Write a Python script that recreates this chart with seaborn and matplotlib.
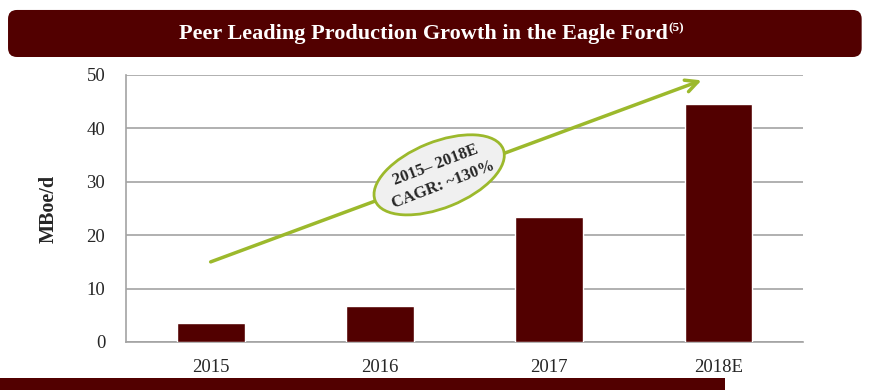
import numpy as np
import pandas as pd
import matplotlib
matplotlib.use('Agg')
import matplotlib.pyplot as plt
import seaborn as sns
from matplotlib.patches import Ellipse, FancyBboxPatch, Rectangle
from matplotlib.text import Annotation
from matplotlib.transforms import ScaledTranslation

# ─────────────────────────────────────────────
# DATA
# ─────────────────────────────────────────────
years = ['2015', '2016', '2017', '2018E']
production = [3.6, 6.7, 23.4, 44.6]
y_ticks = [0, 10, 20, 30, 40, 50]
title = 'Peer Leading Production Growth in the Eagle Ford'
title_note = '(5)'
y_label = 'MBoe/d'
cagr_text = '2015\u2013 2018E\nCAGR: ~130%'
arrow_start = (0.0, 15.0)
arrow_end = (2.9, 49.0)
bubble_center = (1.35, 31.3)

MAROON = '#520000'
GREEN = '#9cb92c'
GRID = '#a3a3a3'

sns.set_style('white')
plt.rcParams['font.family'] = ['Liberation Serif', 'DejaVu Serif']

df = pd.DataFrame({'Year': years, 'MBoe/d': production})

fig = plt.figure(figsize=(8.92, 3.92), dpi=100)
ax = fig.add_axes([0.1413, 0.1276, 0.7590, 0.6811])

sns.barplot(data=df, x='Year', y='MBoe/d', color=MAROON, saturation=1,
            width=0.4, ax=ax, zorder=3)

ax.set_xlim(-0.5, 3.5)
ax.set_ylim(0, 50)
ax.set_yticks(y_ticks)
ax.yaxis.grid(True, color=GRID, linewidth=1.2, zorder=0)
ax.set_axisbelow(True)
for s in ['top', 'right']:
    ax.spines[s].set_visible(False)
for s in ['left', 'bottom']:
    ax.spines[s].set_color(GRID)
    ax.spines[s].set_linewidth(1.2)

ax.tick_params(axis='y', length=5, color=GRID, width=1.2, labelsize=13.5, pad=10)
ax.tick_params(axis='x', which='major', length=0, labelsize=13.5, pad=12)
ax.set_xticks(np.arange(-0.5, 4.0, 1.0), minor=True)
ax.tick_params(axis='x', which='minor', length=6, color=GRID, width=1.2)
ax.set_xlabel('')
ax.set_ylabel(y_label, fontsize=14.5, fontweight='bold', labelpad=20)

# growth arrow
ax.annotate('', xy=arrow_end, xytext=arrow_start,
            arrowprops=dict(arrowstyle='->', color=GREEN, lw=2.5,
                            mutation_scale=22, shrinkA=0, shrinkB=0),
            zorder=5, annotation_clip=False)

# CAGR bubble
tr = fig.dpi_scale_trans + ScaledTranslation(bubble_center[0], bubble_center[1], ax.transData)
ax.add_patch(Ellipse((0, 0), 1.38, 0.66, angle=22, transform=tr,
                     facecolor='#f0f0f0', edgecolor=GREEN, lw=2, zorder=6))
ax.text(bubble_center[0], bubble_center[1], cagr_text, rotation=21,
        ha='center', va='center', fontsize=12, fontweight='bold',
        linespacing=1.45, rotation_mode='anchor', zorder=7)

# title banner
fig.patches.append(FancyBboxPatch((0.009, 0.8546), 0.957, 0.12,
                                  boxstyle='round,pad=0,rounding_size=0.01',
                                  mutation_aspect=892 / 392,
                                  transform=fig.transFigure, facecolor=MAROON,
                                  edgecolor='none', zorder=0))
t = fig.text(0.475, 0.913, title, color='white', fontsize=16,
             fontweight='bold', ha='center', va='center')
fig.add_artist(Annotation(title_note, xy=(1.0, 1.08), xycoords=t,
                          ha='left', va='top', color='white', fontsize=9.5,
                          fontweight='bold'))

# bottom band
fig.patches.append(Rectangle((0, 0.005), 0.813, 0.031, transform=fig.transFigure,
                             facecolor=MAROON, edgecolor='none'))

plt.savefig('out.png', dpi=100)
plt.close()
